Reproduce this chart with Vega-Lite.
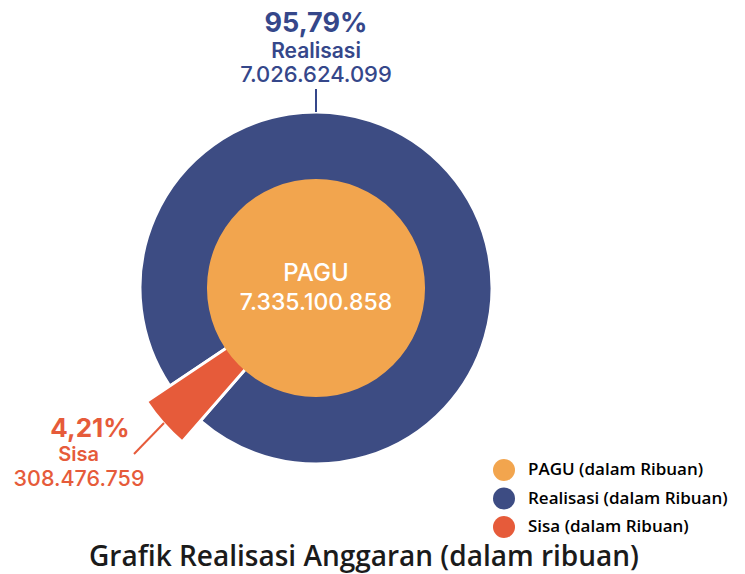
{
  "$schema": "https://vega.github.io/schema/vega-lite/v6.json",
  "width": 632,
  "height": 576,
  "padding": 0,
  "autosize": {"type": "pad"},
  "background": "white",
  "config": {"view": {"stroke": null}},
  "title": {
    "text": "Grafik Realisasi Anggaran (dalam ribuan)",
    "orient": "bottom",
    "frame": "bounds",
    "anchor": "middle",
    "font": "Open Sans",
    "fontSize": 28,
    "fontWeight": 600,
    "color": "#1b1b1b",
    "offset": -32
  },
  "data": {
    "values": [
      {"kategori": "PAGU", "nilai": 7335100858, "label": "7.335.100.858", "persen": ""},
      {"kategori": "Realisasi", "nilai": 7026624099, "label": "7.026.624.099", "persen": "95,79%"},
      {"kategori": "Sisa", "nilai": 308476759, "label": "308.476.759", "persen": "4,21%"}
    ]
  },
  "layer": [
    {
      "transform": [{"filter": "datum.kategori !== 'PAGU'"}],
      "mark": {"type": "arc", "outerRadius": 176, "innerRadius": 0, "stroke": "white", "strokeWidth": 3},
      "encoding": {
        "theta": {"field": "nilai", "type": "quantitative", "stack": true, "scale": {"range": [4.1217, 10.4049]}},
        "order": {"field": "nilai", "type": "quantitative", "sort": "descending"},
        "color": {
          "field": "kategori", "type": "nominal",
          "scale": {"domain": ["PAGU", "Realisasi", "Sisa"], "range": ["#f2a54e", "#3d4c83", "#e65b3a"]},
          "legend": {
            "orient": "none", "legendX": 493, "legendY": 459,
            "title": null, "symbolType": "circle", "symbolSize": 484, "symbolStrokeWidth": 0,
            "labelFont": "Open Sans", "labelFontSize": 17, "labelFontWeight": 600, "labelLimit": 0,
            "labelOffset": 13, "rowPadding": 6.5, "padding": 0,
            "labelExpr": "datum.label + ' (dalam Ribuan)'",
            "encode": {"labels": {"update": {"fill": {"scale": "color", "field": "value"}}}}
          }
        },
        "opacity": {"condition": {"test": "datum.kategori === 'Sisa'", "value": 0}, "value": 1}
      }
    },
    {
      "transform": [{"filter": "datum.kategori !== 'PAGU'"}],
      "mark": {"type": "arc", "outerRadius": 204, "innerRadius": 0, "stroke": "white", "strokeWidth": 3},
      "encoding": {
        "theta": {"field": "nilai", "type": "quantitative", "stack": true, "scale": {"range": [4.1217, 10.4049]}},
        "order": {"field": "nilai", "type": "quantitative", "sort": "descending"},
        "color": {"field": "kategori", "type": "nominal"},
        "opacity": {"condition": {"test": "datum.kategori === 'Sisa'", "value": 1}, "value": 0}
      }
    },
    {
      "transform": [{"filter": "datum.kategori === 'PAGU'"}],
      "mark": {"type": "arc", "outerRadius": 109, "innerRadius": 0},
      "encoding": {
        "theta": {"field": "nilai", "type": "quantitative", "stack": true},
        "color": {"field": "kategori", "type": "nominal"}
      }
    },
    {
      "transform": [{"filter": "datum.kategori === 'PAGU'"}],
      "mark": {"type": "text", "font": "Inter", "fontSize": 24, "fontWeight": 500, "color": "white", "baseline": "middle", "align": "center"},
      "encoding": {"text": {"field": "kategori"}, "theta": {"value": 0}, "radius": {"value": 14.5}}
    },
    {
      "transform": [{"filter": "datum.kategori === 'PAGU'"}],
      "mark": {"type": "text", "font": "Inter", "fontSize": 23, "fontWeight": 500, "color": "white", "baseline": "middle", "align": "center"},
      "encoding": {"text": {"field": "label"}, "theta": {"value": 3.14159}, "radius": {"value": 14.5}}
    },
    {
      "transform": [{"filter": "datum.kategori === 'Realisasi'"}],
      "mark": {"type": "text", "font": "Inter", "fontSize": 27, "fontWeight": 700, "color": "#35478a", "baseline": "middle", "align": "center"},
      "encoding": {"text": {"field": "persen"}, "theta": {"value": 0}, "radius": {"value": 264}}
    },
    {
      "transform": [{"filter": "datum.kategori === 'Realisasi'"}],
      "mark": {"type": "text", "font": "Inter", "fontSize": 21, "fontWeight": 600, "color": "#35478a", "baseline": "middle", "align": "center"},
      "encoding": {"text": {"field": "kategori"}, "theta": {"value": 0}, "radius": {"value": 236}}
    },
    {
      "transform": [{"filter": "datum.kategori === 'Realisasi'"}],
      "mark": {"type": "text", "font": "Inter", "fontSize": 22, "fontWeight": 500, "color": "#35478a", "baseline": "middle", "align": "center"},
      "encoding": {"text": {"field": "label"}, "theta": {"value": 0}, "radius": {"value": 213}}
    },
    {
      "mark": {"type": "rule", "color": "#35478a", "strokeWidth": 2},
      "transform": [{"filter": "datum.kategori === 'Realisasi'"}],
      "encoding": {"x": {"value": 316}, "y": {"value": 89}, "y2": {"value": 112}}
    },
    {
      "transform": [{"filter": "datum.kategori === 'Sisa'"}],
      "mark": {"type": "text", "font": "Inter", "fontSize": 26, "fontWeight": 700, "color": "#e65b3a", "baseline": "middle", "align": "center"},
      "encoding": {"text": {"field": "persen"}, "theta": {"value": 4.1546}, "radius": {"value": 266.4}}
    },
    {
      "transform": [{"filter": "datum.kategori === 'Sisa'"}],
      "mark": {"type": "text", "font": "Inter", "fontSize": 20, "fontWeight": 600, "color": "#e65b3a", "baseline": "middle", "align": "center"},
      "encoding": {"text": {"field": "kategori"}, "theta": {"value": 4.0996}, "radius": {"value": 290.3}}
    },
    {
      "transform": [{"filter": "datum.kategori === 'Sisa'"}],
      "mark": {"type": "text", "font": "Inter", "fontSize": 21.5, "fontWeight": 500, "color": "#e65b3a", "baseline": "middle", "align": "center"},
      "encoding": {"text": {"field": "label"}, "theta": {"value": 4.0327}, "radius": {"value": 304.7}}
    },
    {
      "mark": {"type": "rule", "color": "#e65b3a", "strokeWidth": 2},
      "transform": [{"filter": "datum.kategori === 'Sisa'"}],
      "encoding": {"x": {"value": 164}, "y": {"value": 423}, "x2": {"value": 134}, "y2": {"value": 454}}
    }
  ],
  "resolve": {"scale": {"theta": "independent"}}
}
